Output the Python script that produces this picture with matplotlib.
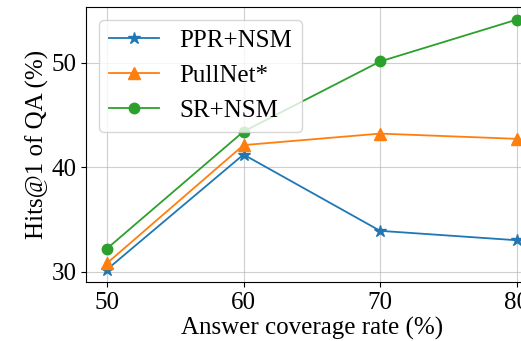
import matplotlib
matplotlib.use("Agg")
import matplotlib.pyplot as plt

# coverage rates on the x axis
coverage = [50, 60, 70, 80]

# hits@1 per method
ppr_nsm = [30.2, 41.2, 33.9, 33.0]
pullnet = [30.8, 42.1, 43.2, 42.7]
sr_nsm = [32.2, 43.4, 50.1, 54.1]

plt.rcParams['font.family'] = ['Liberation Serif', 'DejaVu Serif']
plt.rcParams['font.size'] = 18

fig = plt.figure(figsize=(5.21, 3.41), dpi=100)
# the original was cropped on the right, so the axes run past the figure edge
ax = fig.add_axes([0.166, 0.173, 0.865, 0.806])

ax.plot(coverage, ppr_nsm, marker='*', markersize=9, lw=1.3, color='#1f77b4', label='PPR+NSM')
ax.plot(coverage, pullnet, marker='^', markersize=8, lw=1.3, color='#ff7f0e', label='PullNet*')
ax.plot(coverage, sr_nsm, marker='o', markersize=7.5, lw=1.3, color='#2ca02c', label='SR+NSM')

ax.set_xticks(coverage)
ax.set_yticks([30, 40, 50])
ax.grid(True, color='#b0b0b0', alpha=0.6)
ax.set_xlabel('Answer coverage rate (%)', labelpad=2)
ax.set_ylabel('Hits@1 of QA (%)', labelpad=2)
ax.legend(loc='upper left', fontsize=18)

fig.savefig('out.png', dpi=100)
